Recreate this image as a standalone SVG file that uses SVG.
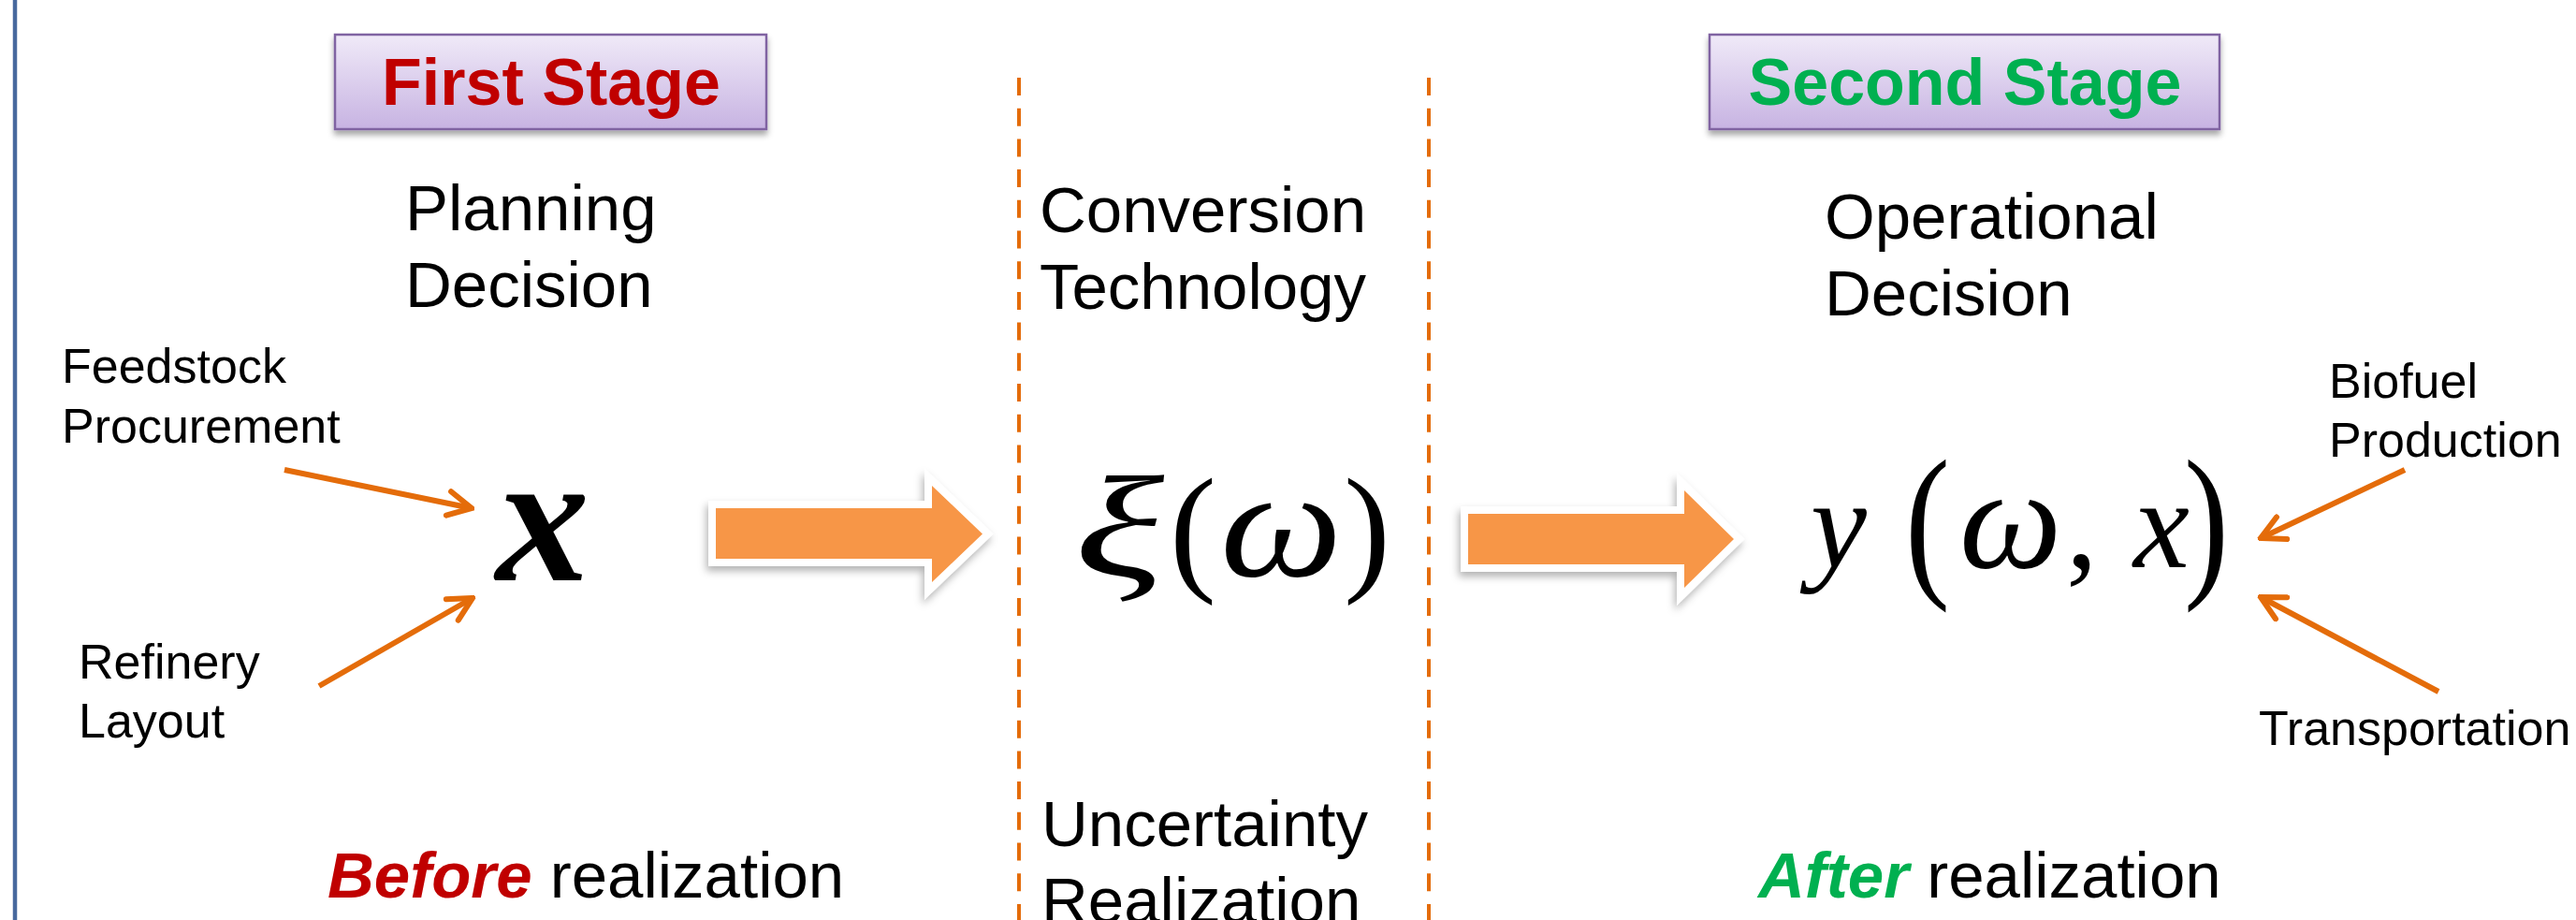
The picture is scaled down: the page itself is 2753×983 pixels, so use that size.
<svg xmlns="http://www.w3.org/2000/svg" width="2753" height="983" viewBox="0 0 2753 983">
<defs>
<linearGradient id="boxGrad" x1="0" y1="0" x2="0" y2="1">
<stop offset="0" stop-color="#f0eaf8"/>
<stop offset="1" stop-color="#c7b3e2"/>
</linearGradient>
<filter id="boxShadow" x="-10%" y="-20%" width="120%" height="150%">
<feDropShadow dx="0" dy="5" stdDeviation="3" flood-color="#000" flood-opacity="0.35"/>
</filter>
<filter id="arrowShadow" x="-10%" y="-30%" width="125%" height="170%">
<feDropShadow dx="-2" dy="5" stdDeviation="4" flood-color="#000" flood-opacity="0.3"/>
</filter>
<marker id="openHead" markerUnits="userSpaceOnUse" viewBox="0 0 32 32" markerWidth="32" markerHeight="32" refX="29" refY="16" orient="auto">
<path d="M4,3 L29,16 L4,29" fill="none" stroke="#e46c0a" stroke-width="6" stroke-linecap="round" stroke-linejoin="miter"/>
</marker>
<style>
.box{fill:url(#boxGrad);stroke:#8064a2;stroke-width:2.5;filter:url(#boxShadow);}
.stage{font-family:"Liberation Sans",Arial,sans-serif;font-weight:bold;font-size:70px;text-anchor:middle;}
.lbl{font-family:"Liberation Sans",Arial,sans-serif;font-size:69px;fill:#000;}
.sm{font-family:"Liberation Sans",Arial,sans-serif;font-size:52px;fill:#000;}
.math{font-family:"Liberation Serif","Times New Roman","DejaVu Serif",serif;fill:#000;}
.it{font-style:italic;}
.em{font-weight:bold;font-style:italic;}
.conn{stroke:#e46c0a;stroke-width:6;fill:none;marker-end:url(#openHead);}
.dash{stroke:#e46c0a;stroke-width:4;stroke-dasharray:19 13.7;fill:none;}
.big{fill:#f79646;stroke:#ffffff;stroke-width:16;stroke-linejoin:miter;paint-order:stroke;}
</style>
</defs>
<rect x="0" y="0" width="2753" height="983" fill="#ffffff"/>
<line x1="16" y1="0" x2="16" y2="983" stroke="#48699e" stroke-width="4.5"/>
<g id="dividers">
<line class="dash" x1="1089" y1="83" x2="1089" y2="983"/>
<line class="dash" x1="1527" y1="83" x2="1527" y2="983"/>
</g>
<g id="first-stage">
<rect class="box" x="358" y="37" width="461" height="101"/>
<text class="stage" x="589" y="112" fill="#c00000">First Stage</text>
</g>
<g id="second-stage">
<rect class="box" x="1827" y="37" width="545" height="101"/>
<text class="stage" x="2100" y="112" fill="#00b050">Second Stage</text>
</g>
<g id="planning-decision">
<text class="lbl" x="433" y="246">Planning</text>
<text class="lbl" x="433" y="328">Decision</text>
</g>
<g id="conversion-technology">
<text class="lbl" x="1111" y="248">Conversion</text>
<text class="lbl" x="1111" y="330">Technology</text>
</g>
<g id="operational-decision">
<text class="lbl" x="1950" y="255">Operational</text>
<text class="lbl" x="1950" y="337">Decision</text>
</g>
<g id="feedstock">
<text class="sm" x="66" y="409">Feedstock</text>
<text class="sm" x="66" y="473">Procurement</text>
</g>
<g id="refinery">
<text class="sm" x="84" y="725">Refinery</text>
<text class="sm" x="84" y="788">Layout</text>
</g>
<g id="biofuel">
<text class="sm" x="2489" y="425">Biofuel</text>
<text class="sm" x="2489" y="488">Production</text>
</g>
<g id="transportation">
<text class="sm" x="2414" y="796">Transportation</text>
</g>
<g id="x-node">
<text class="math em" x="580" y="620" font-size="200" text-anchor="middle">x</text>
</g>
<g id="xi-node">
<text class="math it" transform="translate(1148,615) scale(1.45,1)" font-size="155">ξ</text>
<text class="math" x="1250" y="615" font-size="150">(</text>
<text class="math it" transform="translate(1304,615) scale(1.12,1)" font-size="165">ω</text>
<text class="math" x="1436" y="615" font-size="150">)</text>
</g>
<g id="y-node">
<text class="math it" x="1935" y="606" font-size="135">y</text>
<text class="math" transform="translate(2036,616) scale(0.8,1)" font-size="180">(</text>
<text class="math it" x="2094" y="606" font-size="155">ω</text>
<text class="math" x="2208" y="606" font-size="135">,</text>
<text class="math it" x="2280" y="606" font-size="135">x</text>
<text class="math" transform="translate(2334,616) scale(0.8,1)" font-size="180">)</text>
</g>
<g id="uncertainty">
<text class="lbl" x="1113" y="904">Uncertainty</text>
<text class="lbl" x="1113" y="986">Realization</text>
</g>
<g id="before">
<text class="lbl" x="350" y="959"><tspan class="em" fill="#c00000">Before</tspan> realization</text>
</g>
<g id="after">
<text class="lbl" x="1879" y="959"><tspan class="em" fill="#00b050">After</tspan> realization</text>
</g>
<g id="connectors">
<g filter="url(#arrowShadow)">
<polygon class="big" points="765,543 996,543 996,519 1050,570.5 996,622 996,597 765,597"/>
<polygon class="big" points="1569,549 1800,549 1800,524 1853,576 1800,628 1800,603 1569,603"/>
</g>
<line class="conn" x1="304" y1="502" x2="504" y2="543"/>
<line class="conn" x1="341" y1="733" x2="505" y2="639"/>
<line class="conn" x1="2570" y1="502" x2="2416" y2="575"/>
<line class="conn" x1="2606" y1="739" x2="2416" y2="638"/>
</g>
</svg>
